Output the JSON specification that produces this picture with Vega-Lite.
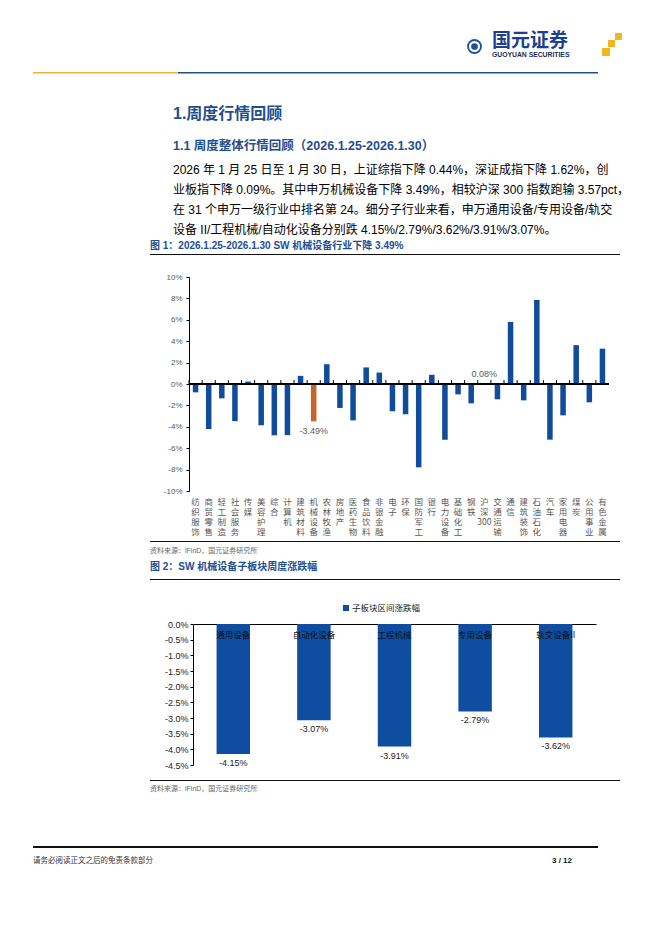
{
"padding": 0,
"autosize": {"type": "pad"},
"background": "white",
"spacing": 0,
"config": {
  "view": {"stroke": null, "fill": "transparent"},
  "font": "Liberation Sans, Noto Sans CJK SC",
  "axis": {"grid": false},
  "concat": {"spacing": 0}
},
"vconcat": [
  {"spacing": 0, "hconcat": [
    {"width": 465, "height": 71.5, "data": {"values": []}, "mark": "point"},
    {"spacing": 0, "vconcat": [
      {"width": 17, "height": 36.5, "data": {"values": []}, "mark": "point"},
      {"width": 17, "height": 17, "data": {"values": [{}]}, "layer": [
        {"mark": {"type": "point", "shape": "circle", "filled": true, "size": 220, "color": "#1D4F9B", "opacity": 1}},
        {"mark": {"type": "point", "shape": "circle", "filled": false, "size": 80, "stroke": "white", "strokeWidth": 2.2, "opacity": 1}},
        {"mark": {"type": "point", "shape": "diamond", "filled": true, "size": 26, "color": "#1D4F9B", "opacity": 1}}
      ]}
    ]},
    {"width": 8, "height": 71.5, "data": {"values": []}, "mark": "point"},
    {"spacing": 0, "vconcat": [
      {"width": 90, "height": 31, "data": {"values": []}, "mark": "point"},
      {"width": 90, "height": 17, "data": {"values": [{}]},
       "mark": {"type": "text", "text": "国元证券", "align": "left", "baseline": "middle", "font": "Noto Sans CJK SC", "fontSize": 19, "fontWeight": "bold", "color": "#1D3F8F"},
       "encoding": {"x": {"datum": 0, "type": "quantitative", "scale": {"domain": [0, 1]}, "axis": null}}},
      {"width": 90, "height": 8, "data": {"values": [{}]},
       "mark": {"type": "text", "text": "GUOYUAN SECURITIES", "align": "left", "baseline": "middle", "font": "Liberation Sans", "fontSize": 6.8, "fontWeight": "bold", "color": "#1A2D5A"},
       "encoding": {"x": {"datum": 0, "type": "quantitative", "scale": {"domain": [0, 1]}, "axis": null}}}
    ]},
    {"width": 0, "height": 71.5, "data": {"values": []}, "mark": "point"},
    {"spacing": 0, "vconcat": [
      {"width": 20, "height": 33, "data": {"values": []}, "mark": "point"},
      {"spacing": 0, "hconcat": [
        {"width": 13, "height": 7, "data": {"values": []}, "mark": "point"},
        {"width": 7, "height": 7, "data": {"values": []}, "mark": "point", "view": {"fill": "#F3B61F", "stroke": null}}
      ]},
      {"spacing": 0, "hconcat": [
        {"width": 6, "height": 8, "data": {"values": []}, "mark": "point"},
        {"width": 7, "height": 7, "data": {"values": []}, "mark": "point", "view": {"fill": "#F3B61F", "stroke": null}}
      ]},
      {"width": 8, "height": 8, "data": {"values": []}, "mark": "point", "view": {"fill": "#F3B61F", "stroke": null}}
    ]}
  ]},
  {"spacing": 0, "hconcat": [
    {"width": 33, "height": 1.5, "data": {"values": []}, "mark": "point"},
    {"width": 145, "height": 1.5, "data": {"values": []}, "mark": "point", "view": {"fill": "#EDB13A", "stroke": null}},
    {"width": 420, "height": 1.5, "data": {"values": []}, "mark": "point", "view": {"fill": "#1F4E8E", "stroke": null}}
  ]},
  {"spacing": 0, "hconcat": [
    {"width": 173, "height": 166, "data": {"values": []}, "mark": "point"},
    {"spacing": 0, "vconcat": [
      {"width": 440, "height": 32, "data": {"values": []}, "mark": "point"},
      {"width": 440, "height": 16, "data": {"values": [{}]},
       "mark": {"type": "text", "text": "1.周度行情回顾", "align": "left", "baseline": "middle", "fontSize": 16, "fontWeight": "bold", "color": "#1F4E8F"},
       "encoding": {"x": {"datum": 0, "type": "quantitative", "scale": {"domain": [0, 1]}, "axis": null}}},
      {"width": 440, "height": 16, "data": {"values": []}, "mark": "point"},
      {"width": 440, "height": 16, "data": {"values": [{}]},
       "mark": {"type": "text", "text": "1.1 周度整体行情回顾（2026.1.25-2026.1.30）", "align": "left", "baseline": "middle", "fontSize": 12.5, "fontWeight": "bold", "color": "#1F4E8F"},
       "encoding": {"x": {"datum": 0, "type": "quantitative", "scale": {"domain": [0, 1]}, "axis": null}}},
      {"width": 440, "height": 6, "data": {"values": []}, "mark": "point"},
      {"width": 440, "height": 20, "data": {"values": [{}]},
       "mark": {"type": "text", "text": "2026 年 1 月 25 日至 1 月 30 日，上证综指下降 0.44%，深证成指下降 1.62%，创", "align": "left", "baseline": "middle", "fontSize": 12, "color": "#000000"},
       "encoding": {"x": {"datum": 0, "type": "quantitative", "scale": {"domain": [0, 1]}, "axis": null}}},
      {"width": 440, "height": 20, "data": {"values": [{}]},
       "mark": {"type": "text", "text": "业板指下降 0.09%。其中申万机械设备下降 3.49%，相较沪深 300 指数跑输 3.57pct，", "align": "left", "baseline": "middle", "fontSize": 12, "color": "#000000"},
       "encoding": {"x": {"datum": 0, "type": "quantitative", "scale": {"domain": [0, 1]}, "axis": null}}},
      {"width": 440, "height": 20, "data": {"values": [{}]},
       "mark": {"type": "text", "text": "在 31 个申万一级行业中排名第 24。细分子行业来看，申万通用设备/专用设备/轨交", "align": "left", "baseline": "middle", "fontSize": 12, "color": "#000000"},
       "encoding": {"x": {"datum": 0, "type": "quantitative", "scale": {"domain": [0, 1]}, "axis": null}}},
      {"width": 440, "height": 20, "data": {"values": [{}]},
       "mark": {"type": "text", "text": "设备 II/工程机械/自动化设备分别跌 4.15%/2.79%/3.62%/3.91%/3.07%。", "align": "left", "baseline": "middle", "fontSize": 12, "color": "#000000"},
       "encoding": {"x": {"datum": 0, "type": "quantitative", "scale": {"domain": [0, 1]}, "axis": null}}}
    ]}
  ]},
  {"spacing": 0, "hconcat": [
    {"width": 150, "height": 554, "data": {"values": []}, "mark": "point"},
    {"spacing": 0, "vconcat": [
      {"width": 470, "height": 12, "data": {"values": [{}]},
       "mark": {"type": "text", "text": "图 1：2026.1.25-2026.1.30 SW 机械设备行业下降 3.49%", "align": "left", "baseline": "middle", "fontSize": 10, "fontWeight": "bold", "color": "#1E4D91"},
       "encoding": {"x": {"datum": 0, "type": "quantitative", "scale": {"domain": [0, 1]}, "axis": null}}},
      {"width": 470, "height": 2, "data": {"values": []}, "mark": "point"},
      {"width": 470, "height": 1, "data": {"values": []}, "mark": "point", "view": {"fill": "#111111", "stroke": null}},
      {"width": 470, "height": 17.5, "data": {"values": []}, "mark": "point"},
      {"spacing": 0, "hconcat": [
        {"width": 12.8, "height": 10, "data": {"values": []}, "mark": "point"},
        {"width": 420, "height": 214,
         "data": {"values": [
           {"industry": "纺织服饰", "value": -0.78, "group": "其他"},
           {"industry": "商贸零售", "value": -4.21, "group": "其他"},
           {"industry": "轻工制造", "value": -1.34, "group": "其他"},
           {"industry": "社会服务", "value": -3.47, "group": "其他"},
           {"industry": "传媒", "value": 0.23, "group": "其他"},
           {"industry": "美容护理", "value": -3.86, "group": "其他"},
           {"industry": "综合", "value": -4.8, "group": "其他"},
           {"industry": "计算机", "value": -4.78, "group": "其他"},
           {"industry": "建筑材料", "value": 0.76, "group": "其他"},
           {"industry": "机械设备", "value": -3.49, "group": "突出"},
           {"industry": "农林牧渔", "value": 1.85, "group": "其他"},
           {"industry": "房地产", "value": -2.24, "group": "其他"},
           {"industry": "医药生物", "value": -3.4, "group": "其他"},
           {"industry": "食品饮料", "value": 1.55, "group": "其他"},
           {"industry": "非银金融", "value": 1.07, "group": "其他"},
           {"industry": "电子", "value": -2.55, "group": "其他"},
           {"industry": "环保", "value": -2.83, "group": "其他"},
           {"industry": "国防军工", "value": -7.79, "group": "其他"},
           {"industry": "银行", "value": 0.86, "group": "其他"},
           {"industry": "电力设备", "value": -5.2, "group": "其他"},
           {"industry": "基础化工", "value": -0.97, "group": "其他"},
           {"industry": "钢铁", "value": -1.81, "group": "其他"},
           {"industry": "沪深300", "value": 0.08, "group": "突出"},
           {"industry": "交通运输", "value": -1.43, "group": "其他"},
           {"industry": "通信", "value": 5.8, "group": "其他"},
           {"industry": "建筑装饰", "value": -1.53, "group": "其他"},
           {"industry": "石油石化", "value": 7.85, "group": "其他"},
           {"industry": "汽车", "value": -5.2, "group": "其他"},
           {"industry": "家用电器", "value": -2.93, "group": "其他"},
           {"industry": "煤炭", "value": 3.63, "group": "其他"},
           {"industry": "公用事业", "value": -1.71, "group": "其他"},
           {"industry": "有色金属", "value": 3.3, "group": "其他"}
         ]},
         "encoding": {
           "y": {"field": "value", "type": "quantitative",
                 "scale": {"domain": [-10, 10], "nice": false},
                 "axis": {"values": [-10,-8,-6,-4,-2,0,2,4,6,8,10], "labelExpr": "replace(format(datum.value, 'd'), '\u2212', '-') + '%'",
                          "title": null, "domainColor": "#000000", "tickColor": "#000000", "tickSize": 3,
                          "labelFontSize": 8, "labelColor": "#595959", "labelPadding": 4, "labelFont": "Liberation Sans"}}
         },
         "layer": [
           {"mark": {"type": "bar", "width": {"band": 0.42}},
            "encoding": {
              "x": {"field": "industry", "type": "nominal", "sort": null,
                    "scale": {"domain": ["纺织服饰","商贸零售","轻工制造","社会服务","传媒","美容护理","综合","计算机","建筑材料","机械设备","农林牧渔","房地产","医药生物","食品饮料","非银金融","电子","环保","国防军工","银行","电力设备","基础化工","钢铁","沪深300","交通运输","通信","建筑装饰","石油石化","汽车","家用电器","煤炭","公用事业","有色金属"], "paddingInner": 0, "paddingOuter": 0},
                    "axis": {"orient": "bottom", "domain": false, "ticks": false, "labelAngle": 0, "title": null,
                             "labelExpr": "datum.label == '沪深300' ? ['沪','深','300'] : split(datum.label, '')",
                             "labelBaseline": "top", "labelFontSize": 8.5, "labelLineHeight": 10.3, "labelPadding": 6,
                             "labelColor": "#595959", "labelOverlap": false, "labelFont": "Noto Sans CJK SC"}},
              "color": {"field": "group", "type": "nominal",
                        "scale": {"domain": ["其他", "突出"], "range": ["#0F4C9C", "#C5652A"]}, "legend": null}
            }},
           {"mark": {"type": "rule", "color": "#000000", "strokeWidth": 1},
            "encoding": {"y": {"datum": 0, "type": "quantitative"}}},
           {"mark": {"type": "rule", "color": "#000000", "strokeWidth": 1},
            "encoding": {
              "x": {"field": "industry", "type": "nominal", "sort": null, "bandPosition": 0,
                    "scale": {"domain": ["纺织服饰","商贸零售","轻工制造","社会服务","传媒","美容护理","综合","计算机","建筑材料","机械设备","农林牧渔","房地产","医药生物","食品饮料","非银金融","电子","环保","国防军工","银行","电力设备","基础化工","钢铁","沪深300","交通运输","通信","建筑装饰","石油石化","汽车","家用电器","煤炭","公用事业","有色金属"], "paddingInner": 0, "paddingOuter": 0},
                    "axis": {"orient": "bottom", "domain": false, "ticks": false, "labelAngle": 0, "title": null,
                             "labelExpr": "datum.label == '沪深300' ? ['沪','深','300'] : split(datum.label, '')",
                             "labelBaseline": "top", "labelFontSize": 8.5, "labelLineHeight": 10.3, "labelPadding": 6,
                             "labelColor": "#595959", "labelOverlap": false, "labelFont": "Noto Sans CJK SC"}},
              "y": {"datum": 0, "type": "quantitative"},
              "y2": {"datum": 0.37}
            }},
           {"transform": [{"filter": "datum.group == '突出' && datum.value < 0"}],
            "mark": {"type": "text", "baseline": "top", "dy": 5.5, "fontSize": 9, "color": "#595959", "font": "Liberation Sans",
                     "text": {"expr": "replace(format(datum.value, '.2f'), '\u2212', '-') + '%'"}},
            "encoding": {
              "x": {"field": "industry", "type": "nominal", "sort": null,
                    "scale": {"domain": ["纺织服饰","商贸零售","轻工制造","社会服务","传媒","美容护理","综合","计算机","建筑材料","机械设备","农林牧渔","房地产","医药生物","食品饮料","非银金融","电子","环保","国防军工","银行","电力设备","基础化工","钢铁","沪深300","交通运输","通信","建筑装饰","石油石化","汽车","家用电器","煤炭","公用事业","有色金属"], "paddingInner": 0, "paddingOuter": 0},
                    "axis": {"orient": "bottom", "domain": false, "ticks": false, "labelAngle": 0, "title": null,
                             "labelExpr": "datum.label == '沪深300' ? ['沪','深','300'] : split(datum.label, '')",
                             "labelBaseline": "top", "labelFontSize": 8.5, "labelLineHeight": 10.3, "labelPadding": 6,
                             "labelColor": "#595959", "labelOverlap": false, "labelFont": "Noto Sans CJK SC"}}
            }},
           {"transform": [{"filter": "datum.group == '突出' && datum.value >= 0"}],
            "mark": {"type": "text", "baseline": "bottom", "dy": -4, "fontSize": 9, "color": "#595959", "font": "Liberation Sans",
                     "text": {"expr": "format(datum.value, '.2f') + '%'"}},
            "encoding": {
              "x": {"field": "industry", "type": "nominal", "sort": null,
                    "scale": {"domain": ["纺织服饰","商贸零售","轻工制造","社会服务","传媒","美容护理","综合","计算机","建筑材料","机械设备","农林牧渔","房地产","医药生物","食品饮料","非银金融","电子","环保","国防军工","银行","电力设备","基础化工","钢铁","沪深300","交通运输","通信","建筑装饰","石油石化","汽车","家用电器","煤炭","公用事业","有色金属"], "paddingInner": 0, "paddingOuter": 0},
                    "axis": {"orient": "bottom", "domain": false, "ticks": false, "labelAngle": 0, "title": null,
                             "labelExpr": "datum.label == '沪深300' ? ['沪','深','300'] : split(datum.label, '')",
                             "labelBaseline": "top", "labelFontSize": 8.5, "labelLineHeight": 10.3, "labelPadding": 6,
                             "labelColor": "#595959", "labelOverlap": false, "labelFont": "Noto Sans CJK SC"}}
            }}
         ]}
      ]},
      {"width": 470, "height": 3.1, "data": {"values": []}, "mark": "point"},
      {"width": 470, "height": 1, "data": {"values": []}, "mark": "point", "view": {"fill": "#111111", "stroke": null}},
      {"width": 470, "height": 4, "data": {"values": []}, "mark": "point"},
      {"width": 470, "height": 10, "data": {"values": [{}]},
       "mark": {"type": "text", "text": "资料来源：iFinD，国元证券研究所", "align": "left", "baseline": "middle", "fontSize": 7, "color": "#666666"},
       "encoding": {"x": {"datum": 0, "type": "quantitative", "scale": {"domain": [0, 1]}, "axis": null}}},
      {"width": 470, "height": 5, "data": {"values": []}, "mark": "point"},
      {"width": 470, "height": 12, "data": {"values": [{}]},
       "mark": {"type": "text", "text": "图 2：SW 机械设备子板块周度涨跌幅", "align": "left", "baseline": "middle", "fontSize": 10, "fontWeight": "bold", "color": "#1E4D91"},
       "encoding": {"x": {"datum": 0, "type": "quantitative", "scale": {"domain": [0, 1]}, "axis": null}}},
      {"width": 470, "height": 5.5, "data": {"values": []}, "mark": "point"},
      {"width": 470, "height": 1, "data": {"values": []}, "mark": "point", "view": {"fill": "#111111", "stroke": null}},
      {"width": 470, "height": 22.5, "data": {"values": []}, "mark": "point"},
      {"spacing": 0, "hconcat": [
        {"width": 193, "height": 10, "data": {"values": []}, "mark": "point"},
        {"spacing": 0, "vconcat": [
          {"width": 6, "height": 2, "data": {"values": []}, "mark": "point"},
          {"width": 6, "height": 6, "data": {"values": []}, "mark": "point", "view": {"fill": "#0E4D9F", "stroke": null}}
        ]},
        {"width": 3, "height": 10, "data": {"values": []}, "mark": "point"},
        {"width": 90, "height": 10, "data": {"values": [{}]},
         "mark": {"type": "text", "text": "子板块区间涨跌幅", "align": "left", "baseline": "middle", "font": "Noto Sans CJK SC", "fontSize": 8.5, "color": "#222222"},
         "encoding": {"x": {"datum": 0, "type": "quantitative", "scale": {"domain": [0, 1]}, "axis": null}}}
      ]},
      {"width": 470, "height": 7, "data": {"values": []}, "mark": "point"},
      {"spacing": 0, "hconcat": [
        {"width": 13.5, "height": 10, "data": {"values": []}, "mark": "point"},
        {"width": 403, "height": 141,
         "data": {"values": [
           {"sector": "通用设备", "value": -4.15},
           {"sector": "自动化设备", "value": -3.07},
           {"sector": "工程机械", "value": -3.91},
           {"sector": "专用设备", "value": -2.79},
           {"sector": "轨交设备II", "value": -3.62}
         ]},
         "encoding": {
           "x": {"field": "sector", "type": "nominal", "sort": null,
                 "scale": {"domain": ["通用设备","自动化设备","工程机械","专用设备","轨交设备II"], "paddingInner": 0, "paddingOuter": 0},
                 "axis": {"orient": "top", "labels": false, "ticks": false, "title": null, "domainColor": "#000000"}},
           "y": {"field": "value", "type": "quantitative",
                 "scale": {"domain": [-4.5, 0], "nice": false},
                 "axis": {"values": [0,-0.5,-1,-1.5,-2,-2.5,-3,-3.5,-4,-4.5], "labelExpr": "replace(format(datum.value, '.1f'), '\u2212', '-') + '%'",
                          "title": null, "domainColor": "#000000", "tickColor": "#000000", "tickSize": 3,
                          "labelFontSize": 9, "labelColor": "#222222", "labelPadding": 2, "labelFont": "Liberation Sans"}}
         },
         "layer": [
           {"mark": {"type": "bar", "width": {"band": 0.415}, "color": "#0E4D9F"}},
           {"mark": {"type": "text", "baseline": "top", "dy": 7, "font": "Noto Sans CJK SC", "fontSize": 8.5, "color": "#111111",
                     "text": {"expr": "datum.sector"}},
            "encoding": {
              "y": {"datum": 0, "type": "quantitative"}
            }},
           {"mark": {"type": "text", "baseline": "top", "dy": 5, "fontSize": 9, "color": "#222222", "font": "Liberation Sans",
                     "text": {"expr": "replace(format(datum.value, '.2f'), '\u2212', '-') + '%'"}}}
         ]}
      ]},
      {"width": 470, "height": 9.5, "data": {"values": []}, "mark": "point"},
      {"width": 470, "height": 1, "data": {"values": []}, "mark": "point", "view": {"fill": "#111111", "stroke": null}},
      {"width": 470, "height": 3, "data": {"values": []}, "mark": "point"},
      {"width": 470, "height": 10, "data": {"values": [{}]},
       "mark": {"type": "text", "text": "资料来源：iFinD，国元证券研究所", "align": "left", "baseline": "middle", "fontSize": 7, "color": "#666666"},
       "encoding": {"x": {"datum": 0, "type": "quantitative", "scale": {"domain": [0, 1]}, "axis": null}}}
    ]}
  ]},
  {"spacing": 0, "hconcat": [
    {"width": 33, "height": 20, "data": {"values": []}, "mark": "point"},
    {"spacing": 0, "vconcat": [
      {"width": 565, "height": 52, "data": {"values": []}, "mark": "point"},
      {"width": 565, "height": 2, "data": {"values": []}, "mark": "point", "view": {"fill": "#111111", "stroke": null}},
      {"width": 565, "height": 7, "data": {"values": []}, "mark": "point"},
      {"width": 539, "height": 12, "data": {"values": [{}]},
       "layer": [
         {"mark": {"type": "text", "text": "请务必阅读正文之后的免责条款部分", "align": "left", "baseline": "middle", "font": "Noto Sans CJK SC", "fontSize": 7.5, "color": "#333333"},
          "encoding": {"x": {"datum": 0, "type": "quantitative", "scale": {"domain": [0, 1]}, "axis": null}}},
         {"mark": {"type": "text", "text": "3 / 12", "align": "right", "baseline": "middle", "font": "Liberation Sans", "fontSize": 8, "fontWeight": "bold", "color": "#111111"},
          "encoding": {"x": {"datum": 1, "type": "quantitative", "scale": {"domain": [0, 1]}, "axis": null}}}
       ]}
    ]}
  ]},
  {"width": 662, "height": 70, "data": {"values": []}, "mark": "point"}
]
}
